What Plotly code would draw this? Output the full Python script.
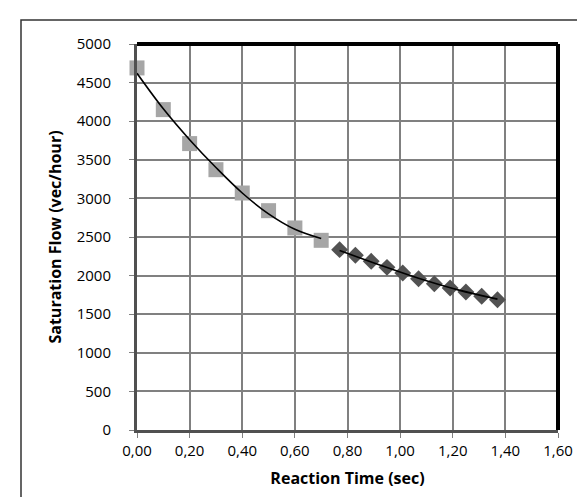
import plotly.graph_objects as go

# Data
sq_x = [0.00, 0.10, 0.20, 0.30, 0.40, 0.50, 0.60, 0.70]
sq_y = [4690, 4150, 3710, 3372, 3070, 2841, 2617, 2457]

dm_x = [0.77, 0.83, 0.89, 0.95, 1.01, 1.07, 1.13, 1.19, 1.25, 1.31, 1.37]
dm_y = [2336, 2263, 2185, 2107, 2034, 1960, 1895, 1839, 1788, 1732, 1688]

# Trend curves
tr1_x = [0.00, 0.10, 0.20, 0.30, 0.40, 0.50, 0.60, 0.70]
tr1_y = [4620, 4160, 3760, 3400, 3070, 2800, 2600, 2480]
tr2_x = [0.77, 0.92, 1.07, 1.22, 1.37]
tr2_y = [2325, 2140, 1965, 1815, 1695]

x_ticks = [0.0, 0.2, 0.4, 0.6, 0.8, 1.0, 1.2, 1.4, 1.6]
y_ticks = [0, 500, 1000, 1500, 2000, 2500, 3000, 3500, 4000, 4500, 5000]

FONT = "Open Sans"

fig = go.Figure()
fig.add_trace(go.Scatter(x=sq_x, y=sq_y, mode="markers", cliponaxis=False,
                         marker=dict(symbol="square", size=15, color="#a6a6a6"),
                         showlegend=False))
fig.add_trace(go.Scatter(x=dm_x, y=dm_y, mode="markers", cliponaxis=False,
                         marker=dict(symbol="diamond", size=13, color="#525252"),
                         showlegend=False))
fig.add_trace(go.Scatter(x=tr1_x, y=tr1_y, mode="lines", line=dict(color="black", width=1.6, shape="spline"),
                         showlegend=False))
fig.add_trace(go.Scatter(x=tr2_x, y=tr2_y, mode="lines", line=dict(color="black", width=1.6, shape="spline"),
                         showlegend=False))

fig.update_layout(
    width=585, height=497,
    margin=dict(l=129, r=35, t=36, b=75),
    paper_bgcolor="white", plot_bgcolor="white",
    separators=", ",
    font=dict(family=FONT, size=15, color="black"),
    xaxis=dict(range=[0, 1.6], tickvals=x_ticks, tickformat=".2f",
               showgrid=True, gridcolor="#808080", gridwidth=1.5,
               showline=True, linecolor="#505050", linewidth=3,
               ticks="outside", ticklen=5, tickcolor="#808080", zeroline=False,
               tickfont=dict(family=FONT, size=15),
               title=dict(text="<b>Reaction Time (sec)</b>", font=dict(family=FONT, size=16), standoff=14)),
    yaxis=dict(range=[0, 5000], tickvals=y_ticks,
               showgrid=True, gridcolor="#808080", gridwidth=1.5,
               showline=True, linecolor="#505050", linewidth=3,
               ticks="outside", ticklen=5, tickcolor="#808080", zeroline=False,
               ticklabelstandoff=15,
               tickfont=dict(family=FONT, size=15),
               title=dict(text="<b>Saturation Flow (vec/hour)</b>", font=dict(family=FONT, size=16), standoff=12)),
    shapes=[
        dict(type="line", xref="paper", yref="paper", x0=0, x1=1, y0=1, y1=1,
             line=dict(color="black", width=4)),
        dict(type="line", xref="paper", yref="paper", x0=1, x1=1, y0=0, y1=1,
             line=dict(color="black", width=4)),
        dict(type="rect", xref="paper", yref="paper",
             x0=(13 - 129) / 421, x1=(582 - 129) / 421,
             y0=-80 / 386, y1=1 + 24 / 386,
             line=dict(color="#333333", width=1.5), layer="below"),
    ],
)

fig.write_html("out.html")
